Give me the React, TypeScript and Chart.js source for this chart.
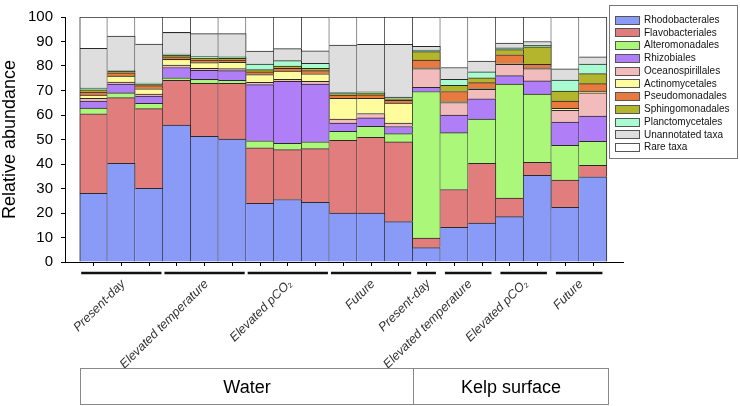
import React, { useEffect, useRef } from 'react';
import { Chart, registerables } from 'chart.js';

Chart.register(...registerables);

// ---------- data ----------
const habitats = ['Water', 'Kelp surface'];
const treatments = ['Present-day', 'Elevated temperature', 'Elevated pCO₂', 'Future'];
const waterReplicates = [3, 3, 3, 3];
const kelpReplicates = [1, 2, 2, 2];

const sampleIds = [
  'W-PD-1', 'W-PD-2', 'W-PD-3', 'W-ET-1', 'W-ET-2', 'W-ET-3',
  'W-OA-1', 'W-OA-2', 'W-OA-3', 'W-FU-1', 'W-FU-2', 'W-FU-3',
  'K-PD-1', 'K-ET-1', 'K-ET-2', 'K-OA-1', 'K-OA-2', 'K-FU-1', 'K-FU-2',
];

const seriesNames = [
  'Rhodobacterales', 'Flavobacteriales', 'Alteromonadales', 'Rhizobiales',
  'Oceanospirillales', 'Actinomycetales', 'Pseudomonadales', 'Sphingomonadales',
  'Planctomycetales', 'Unannotated taxa', 'Rare taxa',
];

const rhodobacterales = [28.0, 40.3, 30.1, 55.9, 51.3, 50.2, 23.9, 25.5, 24.4, 20.0, 20.0, 16.5, 5.9, 14.2, 15.9, 18.5, 35.4, 22.3, 34.8];
const flavobacteriales = [32.5, 26.8, 32.5, 18.3, 21.6, 22.7, 22.7, 20.4, 21.9, 29.7, 30.9, 32.5, 3.9, 15.4, 24.4, 7.6, 5.3, 11.1, 4.7];
const alteromonadales = [2.3, 1.9, 2.2, 1.0, 1.7, 1.3, 2.9, 2.5, 2.8, 3.6, 4.5, 3.4, 59.8, 23.2, 18.0, 46.5, 27.8, 14.2, 9.8];
const rhizobiales = [2.9, 3.6, 2.9, 4.2, 3.6, 3.9, 22.9, 25.3, 23.5, 3.4, 3.4, 2.9, 1.7, 7.2, 8.3, 3.5, 5.4, 9.5, 10.3];
const oceanospirillales = [1.1, 0.8, 0.8, 1.0, 0.9, 0.8, 0.9, 0.9, 1.1, 1.6, 1.8, 1.4, 7.6, 5.1, 3.9, 4.6, 5.0, 4.8, 9.4];
const actinomycetales = [1.3, 2.5, 2.2, 2.3, 2.3, 2.6, 3.2, 3.3, 3.1, 8.5, 6.2, 8.2, 0.4, 0.5, 0.4, 0.3, 0.4, 0.8, 0.8];
const pseudomonadales = [1.3, 1.3, 1.3, 1.0, 1.0, 0.9, 1.1, 1.2, 1.3, 1.3, 1.4, 1.1, 3.1, 4.0, 2.3, 3.6, 1.4, 3.0, 3.0];
const sphingomonadales = [0.9, 0.7, 0.6, 0.7, 0.8, 0.7, 0.9, 0.9, 0.9, 0.6, 0.8, 0.6, 3.5, 2.5, 2.0, 2.1, 7.1, 4.1, 4.1];
const planctomycetales = [0.7, 0.2, 0.4, 0.5, 0.6, 0.6, 2.3, 2.2, 2.1, 0.5, 0.5, 0.7, 0.6, 2.5, 2.4, 0.7, 0.6, 4.5, 3.9];
const unannotatedTaxa = [16.2, 14.1, 15.9, 8.8, 9.4, 9.5, 5.3, 4.9, 5.1, 19.3, 19.3, 21.5, 1.5, 4.8, 4.4, 2.0, 1.6, 4.5, 2.9];
const rareTaxa = [12.8, 7.8, 11.1, 6.3, 6.8, 6.8, 13.9, 12.9, 13.8, 11.5, 11.2, 11.2, 12.0, 20.6, 18.0, 10.6, 10.0, 21.2, 16.3];

const yMin = 0;
const yMax = 100;
const yStep = 10;
const yTitle = 'Relative abundance';

// ---------- styles ----------
const seriesValues = [
  rhodobacterales, flavobacteriales, alteromonadales, rhizobiales, oceanospirillales,
  actinomycetales, pseudomonadales, sphingomonadales, planctomycetales, unannotatedTaxa, rareTaxa,
];
const seriesColors = [
  '#8a9bf7', '#e27d7d', '#aaf77a', '#b07ef7', '#f2bcbc',
  '#fefc9c', '#e8793f', '#b3b52c', '#a9fcd2', '#dedede', '#ffffff',
];
const FONT = '"Liberation Sans", Arial, Helvetica, sans-serif';

const overlayPlugin = {
  id: 'overlay',
  afterDraw(chart: any) {
    const ctx = chart.ctx as CanvasRenderingContext2D;
    const x = chart.scales.x;
    const edge = (v: number) => x.getPixelForValue(v);

    const groups: { name: string; start: number; end: number; habitat: number }[] = [];
    let idx = 0;
    [waterReplicates, kelpReplicates].forEach((reps, h) => {
      reps.forEach((n, t) => {
        groups.push({ name: treatments[t], start: idx, end: idx + n - 1, habitat: h });
        idx += n;
      });
    });

    ctx.save();
    groups.forEach((g) => {
      const l = edge(g.start - 0.5);
      const r = edge(g.end + 0.5);
      const inset = g.habitat === 0 ? 1.5 : 4.5;
      ctx.strokeStyle = '#111';
      ctx.lineWidth = 2.5;
      ctx.beginPath();
      ctx.moveTo(l + inset, 273);
      ctx.lineTo(r - inset, 273);
      ctx.stroke();

      const cx = (l + r) / 2;
      ctx.save();
      ctx.translate(cx + 2, 282);
      ctx.rotate(-Math.PI / 4);
      ctx.fillStyle = '#333';
      ctx.textBaseline = 'middle';
      ctx.font = `italic 12.5px ${FONT}`;
      if (g.name.endsWith('₂')) {
        const main = g.name.slice(0, -1);
        const wMain = ctx.measureText(main).width;
        ctx.font = `italic 7px ${FONT}`;
        const wSub = ctx.measureText('2').width;
        ctx.textAlign = 'left';
        ctx.fillText('2', -wSub, 3);
        ctx.font = `italic 12.5px ${FONT}`;
        ctx.fillText(main, -wSub - wMain, 0);
      } else {
        ctx.textAlign = 'right';
        ctx.fillText(g.name, 0, 0);
      }
      ctx.restore();
    });

    let s = 0;
    [waterReplicates, kelpReplicates].forEach((reps, h) => {
      const n = reps.reduce((a, b) => a + b, 0);
      const l = Math.round(edge(s - 0.5)) + 0.5;
      const r = Math.round(edge(s + n - 0.5)) + (h === 1 ? 1.5 : 0.5);
      ctx.strokeStyle = '#888';
      ctx.lineWidth = 1;
      ctx.fillStyle = '#fff';
      ctx.fillRect(l, 368.5, r - l, 36);
      ctx.strokeRect(l, 368.5, r - l, 36);
      ctx.fillStyle = '#000';
      ctx.font = `18px ${FONT}`;
      ctx.textAlign = 'center';
      ctx.textBaseline = 'middle';
      ctx.fillText(habitats[h], (l + r) / 2, 388);
      s += n;
    });

    ctx.fillStyle = '#fff';
    ctx.strokeStyle = '#777';
    ctx.lineWidth = 1;
    ctx.fillRect(609.5, 5.5, 128, 153);
    ctx.strokeRect(609.5, 5.5, 128, 153);
    ctx.font = `10px ${FONT}`;
    ctx.textAlign = 'left';
    ctx.textBaseline = 'middle';
    seriesNames.forEach((name, i) => {
      const cy = 19.5 + 12.77 * i;
      ctx.fillStyle = seriesColors[i];
      ctx.fillRect(615.5, Math.round(cy - 4) + 0.5, 24, 8);
      ctx.strokeStyle = '#555';
      ctx.strokeRect(615.5, Math.round(cy - 4) + 0.5, 24, 8);
      ctx.fillStyle = '#111';
      ctx.fillText(name, 644, cy + 0.5);
    });
    ctx.restore();
  },
};

export default function App() {
  const canvasRef = useRef<HTMLCanvasElement | null>(null);

  useEffect(() => {
    document.body.style.margin = '0';
    const canvas = canvasRef.current;
    if (!canvas) return;
    const indices = sampleIds.map((_, i) => i);
    const chart = new Chart(canvas, {
      type: 'bar',
      data: {
        labels: sampleIds,
        datasets: seriesNames.map((name, i) => ({
          label: name,
          data: seriesValues[i].map((v, j) => ({ x: j, y: v })),
          backgroundColor: seriesColors[i],
          borderColor: '#2a2a2a',
          borderWidth: (c: any) => ({ top: 1, right: 1, bottom: 0, left: c.dataIndex === 0 ? 1 : 0 }),
          borderSkipped: false,
          categoryPercentage: 1,
          barPercentage: 1,
        })),
      } as any,
      options: {
        animation: false,
        responsive: false,
        devicePixelRatio: 1,
        layout: { padding: { left: 0, right: 117, top: 7, bottom: 139 } },
        plugins: { legend: { display: false }, tooltip: { enabled: false } },
        scales: {
          x: {
            type: 'linear',
            stacked: true,
            offset: false,
            min: -1.03,
            max: 19.08,
            afterBuildTicks: (sc: any) => {
              sc.ticks = indices.map((v) => ({ value: v }));
            },
            afterFit: (sc: any) => {
              sc.height = 5;
            },
            ticks: { display: false, stepSize: 1 },
            grid: { offset: false, drawOnChartArea: false, drawTicks: true, tickLength: 4, color: '#000' },
            border: { color: '#000', width: 1 },
          },
          y: {
            stacked: true,
            min: yMin,
            max: yMax,
            afterFit: (sc: any) => {
              sc.width = 65;
            },
            ticks: { stepSize: yStep, color: '#000', font: { family: FONT, size: 15 }, padding: 8 },
            grid: { drawOnChartArea: false, drawTicks: true, tickLength: 4, color: '#000' },
            border: { color: '#000', width: 1 },
            title: {
              display: true,
              text: yTitle,
              color: '#000',
              font: { family: FONT, size: 18 },
              padding: { top: -1, bottom: 0 },
            },
          },
        },
      } as any,
      plugins: [overlayPlugin],
    });
    return () => chart.destroy();
  }, []);

  return (
    <div style={{ width: 740, height: 406 }}>
      <canvas ref={canvasRef} width={740} height={406} style={{ display: 'block', width: 740, height: 406 }} />
    </div>
  );
}
